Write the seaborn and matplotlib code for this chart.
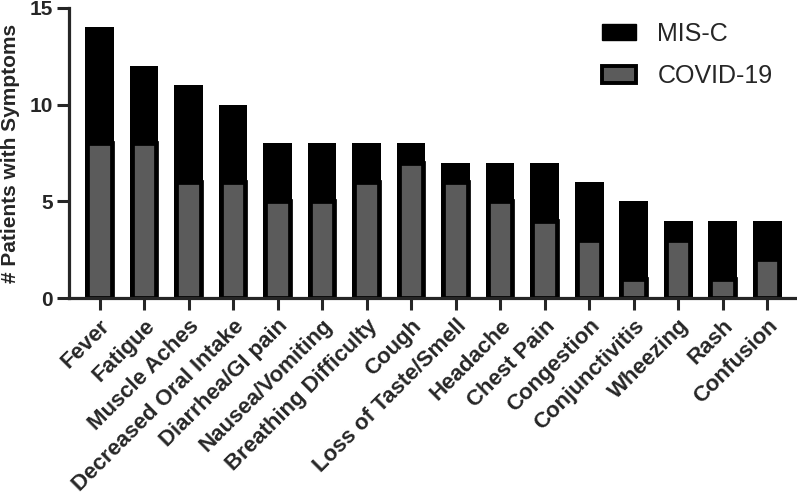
import numpy as np
import pandas as pd
import seaborn as sns
import matplotlib.pyplot as plt
from matplotlib.patches import Patch

# symptom counts
symptoms = ["Fever", "Fatigue", "Muscle Aches", "Decreased Oral Intake",
            "Diarrhea/GI pain", "Nausea/Vomiting", "Breathing Difficulty",
            "Cough", "Loss of Taste/Smell", "Headache", "Chest Pain",
            "Congestion", "Conjunctivitis", "Wheezing", "Rash", "Confusion"]
total_counts = [14, 12, 11, 10, 8, 8, 8, 8, 7, 7, 7, 6, 5, 4, 4, 4]
covid_counts = [8, 8, 6, 6, 5, 5, 6, 7, 6, 5, 4, 3, 1, 3, 1, 2]

df = pd.DataFrame({"Symptom": symptoms, "Total": total_counts, "COVID": covid_counts})

sns.set_style("ticks")
plt.rcParams['font.family'] = ['Liberation Sans', 'DejaVu Sans']
plt.rcParams['font.weight'] = 'bold'

fig = plt.figure(figsize=(7.97, 4.96), dpi=100)
ax = fig.add_axes([0.0866, 0.399, 0.911, 0.585])

grey = "#5b5b5b"

# black bar = total (MIS-C on top), grey bar = COVID-19 part
sns.barplot(data=df, x="Symptom", y="Total", color="black", saturation=1,
            width=0.65, ax=ax, linewidth=0)
sns.barplot(data=df, x="Symptom", y="COVID", color=grey, saturation=1,
            width=0.55, ax=ax, edgecolor="black", linewidth=3.4)

ax.set_xlim(-0.685, 15.63)
ax.set_ylim(0, 15)
ax.set_yticks([0, 5, 10, 15])
ax.set_xlabel("")
ax.set_ylabel("# Patients with Symptoms", fontsize=15, fontweight="bold")
ax.yaxis.set_label_coords(-0.067, 0.497)

ax.tick_params(axis="y", labelsize=15, width=2.2, length=8.5, pad=3)
ax.tick_params(axis="x", labelsize=16, width=2.2, length=8.5, pad=4)
plt.setp(ax.get_xticklabels(), rotation=45, ha="right", rotation_mode="anchor",
         fontweight="bold")
plt.setp(ax.get_yticklabels(), fontweight="bold")

for side in ["left", "bottom"]:
    ax.spines[side].set_linewidth(2.3)
sns.despine(ax=ax)

handles = [Patch(facecolor="black", edgecolor="black", label="MIS-C"),
           Patch(facecolor=grey, edgecolor="black", linewidth=2.8, label="COVID-19")]
leg = ax.legend(handles=handles, loc="upper right", bbox_to_anchor=(1.0, 1.03),
                frameon=False, prop={"size": 18, "weight": "normal"},
                handlelength=1.35, handleheight=0.65, labelspacing=0.75,
                handletextpad=0.85)

fig.savefig("out.png", dpi=100)
